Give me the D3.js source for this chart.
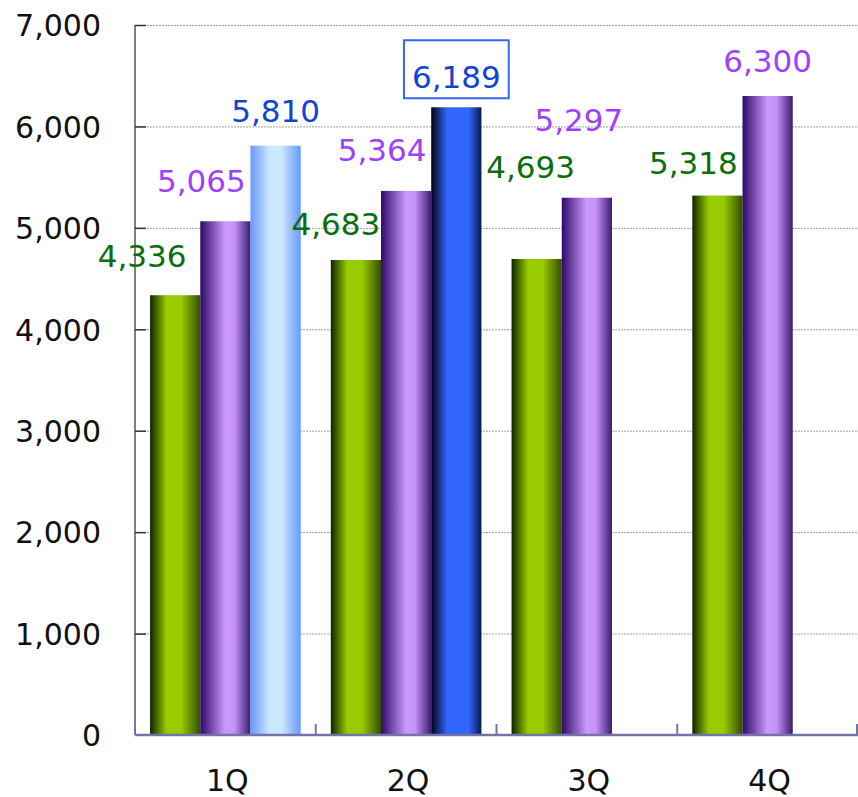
<!DOCTYPE html>
<html>
<head>
<meta charset="utf-8">
<script src="https://cdn.jsdelivr.net/npm/d3@7"></script>
<style>
  html, body { margin: 0; padding: 0; background: #fff; }
  svg { display: block; }
  text { font-family: "DejaVu Sans", Verdana, sans-serif; }
</style>
</head>
<body>
<svg id="chart" width="858" height="797"></svg>
<script>
// Quarterly values, three series per quarter
const categories = ["1Q", "2Q", "3Q", "4Q"];
const seriesGreen = [4336, 4683, 4693, 5318];
const seriesPurple = [5065, 5364, 5297, 6300];
const seriesBlue = [5810, 6189, null, null];
const yTicks = [0, 1000, 2000, 3000, 4000, 5000, 6000, 7000];

// Label nudges (dx, dy from the bar top) so overlapping labels stay readable
const nudgeGreen = [[-33, -28], [-20, -25], [-6, -81], [-24, -22]];
const nudgePurple = [[-24, -29], [-24, -30], [-8, -67], [0, -24]];
const nudgeBlue = [[0, -24], [0, -19], [0, 0], [0, 0]];

const svg = d3.select("#chart");
const margin = { left: 135, right: 0, top: 25, bottom: 62 };
const W = 858, H = 797;
const plotBottom = H - margin.bottom;

const x = d3.scaleBand().domain(categories).range([margin.left, W - margin.right]).paddingInner(0).paddingOuter(0);
const xInner = d3.scaleBand().domain([0, 1, 2]).range([0, x.bandwidth()]).paddingInner(0).paddingOuter(0.3);
const y = d3.scaleLinear().domain([0, 7000]).range([plotBottom, margin.top]);

// Horizontal cylinder-like gradients
const defs = svg.append("defs");
function gradient(id, stops) {
  const g = defs.append("linearGradient").attr("id", id)
    .attr("x1", "0%").attr("x2", "100%").attr("y1", "0%").attr("y2", "0%");
  stops.forEach(([o, c]) => g.append("stop").attr("offset", o).attr("stop-color", c));
}
gradient("gGreen", [["0%", "#0f2400"], ["33%", "#99cc00"], ["62%", "#99cc00"], ["100%", "#334d00"]]);
gradient("gPurple", [["0%", "#2e0a66"], ["50%", "#cc99ff"], ["68%", "#c491f8"], ["100%", "#3d1a70"]]);
gradient("gLightBlue", [["0%", "#6699ff"], ["38%", "#cce8ff"], ["62%", "#cce8ff"], ["100%", "#6699ff"]]);
gradient("gDarkBlue", [["0%", "#000010"], ["32%", "#3366ff"], ["74%", "#3366ff"], ["100%", "#0a1a4d"]]);

// Grid lines
svg.append("g").selectAll("line").data(yTicks.filter(d => d > 0)).join("line")
  .attr("x1", margin.left).attr("x2", W)
  .attr("y1", d => y(d) + 0.5).attr("y2", d => y(d) + 0.5)
  .attr("stroke", "#a0a0a0").attr("stroke-width", 1).attr("stroke-dasharray", "2,1");

// Y axis
const yAxis = d3.axisLeft(y).tickValues(yTicks).tickSize(0).tickFormat(d3.format(","));
const yg = svg.append("g").attr("transform", `translate(${margin.left},0)`).call(yAxis);
yg.select(".domain").remove();
yg.selectAll("text").attr("x", -34).attr("dy", "0.36em")
  .attr("font-size", 30).attr("fill", "#111").attr("font-family", "DejaVu Sans, Verdana, sans-serif");
svg.append("line").attr("x1", margin.left).attr("x2", margin.left)
  .attr("y1", margin.top).attr("y2", plotBottom).attr("stroke", "#7f7f7f").attr("stroke-width", 2);
svg.append("g").selectAll("line").data(yTicks.filter(d => d > 0)).join("line")
  .attr("x1", margin.left).attr("x2", margin.left + 11)
  .attr("y1", d => y(d) + 0.5).attr("y2", d => y(d) + 0.5)
  .attr("stroke", "#333").attr("stroke-width", 1.5);

// Bars
const series = [
  { values: seriesGreen, fill: () => "url(#gGreen)", color: "#0b6e0b", nudge: nudgeGreen },
  { values: seriesPurple, fill: () => "url(#gPurple)", color: "#a040ff", nudge: nudgePurple },
  { values: seriesBlue, fill: i => i === 0 ? "url(#gLightBlue)" : "url(#gDarkBlue)", color: "#1144d0", nudge: nudgeBlue }
];

series.forEach((s, si) => {
  const pts = s.values.map((v, i) => ({ v, i, c: categories[i] })).filter(p => p.v != null);
  svg.append("g").selectAll("rect").data(pts).join("rect")
    .attr("x", p => x(p.c) + xInner(si))
    .attr("width", xInner.bandwidth())
    .attr("y", p => y(p.v))
    .attr("height", p => y(0) - y(p.v))
    .attr("fill", p => s.fill(p.i));
});

// X axis
svg.append("line").attr("x1", margin.left).attr("x2", W)
  .attr("y1", plotBottom).attr("y2", plotBottom).attr("stroke", "#7373a8").attr("stroke-width", 2.5);
const boundaries = categories.map(c => x(c)).concat([x(categories[categories.length - 1]) + x.bandwidth()]);
svg.append("g").selectAll("line").data(boundaries).join("line")
  .attr("x1", d => Math.min(d, W - 1)).attr("x2", d => Math.min(d, W - 1))
  .attr("y1", plotBottom).attr("y2", plotBottom - 11)
  .attr("stroke", "#7373a8").attr("stroke-width", 2);
svg.append("g").selectAll("text").data(categories).join("text")
  .attr("x", c => x(c) + x.bandwidth() / 2 + 2)
  .attr("y", 791)
  .attr("text-anchor", "middle")
  .attr("font-size", 30).attr("fill", "#111")
  .text(c => c);

// Value labels
const fmt = d3.format(",");
series.forEach((s, si) => {
  const pts = s.values.map((v, i) => ({ v, i, c: categories[i] })).filter(p => p.v != null);
  const g = svg.append("g");
  pts.forEach(p => {
    const cx = x(p.c) + xInner(si) + xInner.bandwidth() / 2 + s.nudge[p.i][0];
    const by = y(p.v) + s.nudge[p.i][1];
    const t = g.append("text").attr("x", cx).attr("y", by)
      .attr("text-anchor", "middle").attr("font-size", 31).attr("fill", s.color)
      .text(fmt(p.v));
    if (si === 2 && p.i === 1) {
      const bb = t.node().getBBox();
      g.insert("rect", "text")
        .attr("x", bb.x - 8).attr("y", by - 48)
        .attr("width", bb.width + 16).attr("height", 58)
        .attr("fill", "#fff").attr("stroke", "#3366ff").attr("stroke-width", 2);
    }
  });
});
</script>
</body>
</html>
